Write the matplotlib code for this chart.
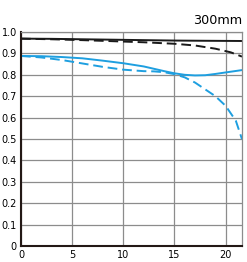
import matplotlib
matplotlib.use("Agg")
import matplotlib.pyplot as plt
import numpy as np

title = "300mm"
x_ticks = [0, 5, 10, 15, 20]
y_ticks = [0, 0.1, 0.2, 0.3, 0.4, 0.5, 0.6, 0.7, 0.8, 0.9, 1.0]
y_labels = ["0", "0.1", "0.2", "0.3", "0.4", "0.5", "0.6", "0.7", "0.8", "0.9", "1.0"]

# image height (mm) and MTF values
black_solid_x = [0, 3, 6, 9, 12, 15, 18, 21.6]
black_solid_y = [0.969, 0.968, 0.966, 0.964, 0.962, 0.960, 0.959, 0.958]

black_dash_x = [0, 3, 6, 9, 12, 15, 17, 19, 20.5, 21.6]
black_dash_y = [0.969, 0.966, 0.962, 0.957, 0.952, 0.945, 0.937, 0.922, 0.905, 0.885]

blue_solid_x = [0, 2, 4, 6, 8, 10, 12, 14, 15, 16, 17, 18, 19, 20, 21.6]
blue_solid_y = [0.888, 0.887, 0.883, 0.877, 0.866, 0.854, 0.839, 0.817, 0.807, 0.800, 0.797, 0.798, 0.804, 0.811, 0.822]

blue_dash_x = [0, 2, 4, 6, 8, 10, 12, 13, 14, 15, 16, 17, 18, 19, 20, 21, 21.6]
blue_dash_y = [0.888, 0.881, 0.869, 0.853, 0.837, 0.824, 0.817, 0.816, 0.812, 0.803, 0.788, 0.764, 0.732, 0.700, 0.655, 0.585, 0.499]

blue = "#1e9fe0"

fig = plt.figure(figsize=(2.47, 2.62), dpi=100)
ax = fig.add_axes([21/247, 1 - 246/262, (242-21)/247, (246-32)/262])

ax.plot(black_solid_x, black_solid_y, color="#1a1a1a", lw=1.4)
ax.plot(black_dash_x, black_dash_y, color="#1a1a1a", lw=1.4, dashes=(5, 2.5))
ax.plot(blue_solid_x, blue_solid_y, color=blue, lw=1.4)
ax.plot(blue_dash_x, blue_dash_y, color=blue, lw=1.4, dashes=(5, 2.5))

ax.set_xlim(0, 21.6)
ax.set_ylim(0, 1.0)
ax.set_xticks(x_ticks)
ax.set_xticklabels([str(t) for t in x_ticks])
ax.set_yticks(y_ticks)
ax.set_yticklabels(y_labels)
ax.grid(True, color="#8c8c8c", lw=0.9)
ax.set_axisbelow(True)
ax.tick_params(length=0, labelsize=7, pad=3)
for s in ["top", "right"]:
    ax.spines[s].set_color("#8c8c8c")
    ax.spines[s].set_linewidth(0.9)
for s in ["left", "bottom"]:
    ax.spines[s].set_color("#231815")
    ax.spines[s].set_linewidth(1.5)

fig.text(242/247, 1 - 21/262, title, ha="right", va="center", fontsize=9.2)

fig.savefig("out.png", dpi=100)
